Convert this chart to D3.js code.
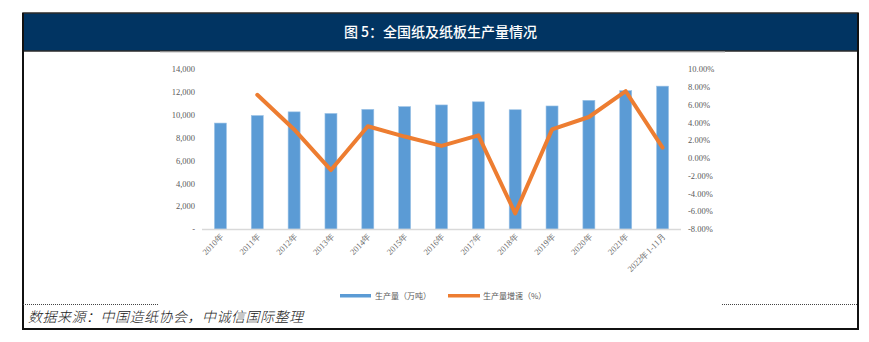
<!DOCTYPE html>
<html><head><meta charset="utf-8">
<script src="https://cdn.jsdelivr.net/npm/d3@7/dist/d3.min.js"></script>
<style>body{margin:0;background:#fff}svg{display:block}</style>
</head><body>
<script>
const categories = ["2010年","2011年","2012年","2013年","2014年","2015年","2016年","2017年","2018年","2019年","2020年","2021年","2022年1-11月"];
const production = [9270, 9930, 10250, 10110, 10470, 10710, 10855, 11130, 10435, 10765, 11260, 12105, 12500];
const growth = [null, 7.1, 3.2, -1.37, 3.56, 2.4, 1.35, 2.53, -6.24, 3.2, 4.6, 7.5, 1.15];
const leftTicks = [0, 2000, 4000, 6000, 8000, 10000, 12000, 14000];
const rightTicks = [-8, -6, -4, -2, 0, 2, 4, 6, 8, 10];
const seriesNames = ["生产量（万吨）", "生产量增速（%）"];
const titleText = "图 5：全国纸及纸板生产量情况";
const sourceText = "数据来源：中国造纸协会，中诚信国际整理";

const W = 869, H = 342;
const svg = d3.select("body").append("svg").attr("width", W).attr("height", H);

// frame
const fx0 = 23, fx1 = 858, fy0 = 13, fy1 = 329;
svg.append("rect").attr("x", fx0).attr("y", fy0).attr("width", fx1 - fx0).attr("height", 38)
  .attr("fill", "#013462").attr("stroke", "#2b2b2b").attr("stroke-width", 1.5);
svg.append("line").attr("x1", 160).attr("x2", 725).attr("y1", 52).attr("y2", 52).attr("stroke", "#bbb").attr("stroke-width", 1);
svg.append("text").attr("x", (fx0 + fx1) / 2).attr("y", 37).attr("text-anchor", "middle")
  .attr("fill", "#fff").attr("font-family", "Noto Sans CJK SC").attr("font-size", 14).attr("font-weight", 500)
  .text(titleText);
svg.append("line").attr("x1", fx0).attr("x2", fx0).attr("y1", fy0).attr("y2", fy1).attr("stroke", "#111").attr("stroke-width", 2);
svg.append("line").attr("x1", fx1).attr("x2", fx1).attr("y1", fy0).attr("y2", fy1).attr("stroke", "#111").attr("stroke-width", 2);
svg.append("line").attr("x1", fx0 - 1).attr("x2", fx1 + 1).attr("y1", fy1).attr("y2", fy1).attr("stroke", "#111").attr("stroke-width", 2);
// dotted separators
svg.append("line").attr("x1", fx0).attr("x2", 158).attr("y1", 304.5).attr("y2", 304.5).attr("stroke", "#444").attr("stroke-width", 1).attr("stroke-dasharray", "1,1");
svg.append("line").attr("x1", 722).attr("x2", fx1).attr("y1", 304.5).attr("y2", 304.5).attr("stroke", "#444").attr("stroke-width", 1).attr("stroke-dasharray", "1,1");
svg.append("text").attr("x", 28).attr("y", 322).attr("fill", "#222")
  .attr("font-family", "Noto Sans CJK SC").attr("font-size", 14).attr("font-style", "italic").attr("font-weight", 300)
  .attr("letter-spacing", 0.5)
  .text(sourceText);

// scales
const x = d3.scaleBand().domain(categories).range([202, 681]).paddingInner(0).paddingOuter(0);
const yL = d3.scaleLinear().domain([0, 14000]).range([229, 69]);
const yR = d3.scaleLinear().domain([-8, 10]).range([229, 69]);
const barW = 12;

const tickFont = "Liberation Serif, Times New Roman, serif";
// left axis
const gL = svg.append("g").attr("transform", "translate(195,0)")
  .call(d3.axisLeft(yL).tickValues(leftTicks).tickSize(0).tickPadding(0)
    .tickFormat(d => d === 0 ? "-" : d3.format(",")(d)));
gL.select(".domain").remove();
gL.selectAll("text").attr("fill", "#595959").attr("font-family", tickFont).attr("font-size", 8.5);

// right axis
const gR = svg.append("g").attr("transform", "translate(688,0)")
  .call(d3.axisRight(yR).tickValues(rightTicks).tickSize(0).tickPadding(0)
    .tickFormat(d => d.toFixed(2) + "%"));
gR.select(".domain").remove();
gR.selectAll("text").attr("fill", "#595959").attr("font-family", tickFont).attr("font-size", 8.5);

// bars
svg.append("g").selectAll("rect").data(production).join("rect")
  .attr("x", (d, i) => x(categories[i]) + x.bandwidth() / 2 - barW / 2)
  .attr("y", d => yL(d)).attr("width", barW).attr("height", d => yL(0) - yL(d))
  .attr("fill", "#5B9BD5").attr("stroke", "#9DC3E6").attr("stroke-width", 0.6);

// baseline
svg.append("line").attr("x1", 202).attr("x2", 681).attr("y1", yL(0) + 0.5).attr("y2", yL(0) + 0.5)
  .attr("stroke", "#D9D9D9").attr("stroke-width", 1.5);

// x axis labels
const gX = svg.append("g").attr("transform", `translate(0,${yL(0)})`)
  .call(d3.axisBottom(x).tickSize(0).tickPadding(0));
gX.select(".domain").remove();
gX.selectAll("text").attr("fill", "#6a6a6a").attr("font-family", tickFont).attr("font-size", 8.5)
  .attr("text-anchor", "end").attr("dy", 0).attr("y", 0)
  .attr("transform", "translate(4,8) rotate(-45)");

// line
const line = d3.line().defined(d => d.v !== null)
  .x(d => x(d.c) + x.bandwidth() / 2).y(d => yR(d.v));
svg.append("path").datum(growth.map((v, i) => ({ c: categories[i], v })))
  .attr("d", line).attr("fill", "none").attr("stroke", "#ED7D31").attr("stroke-width", 4)
  .attr("stroke-linejoin", "round").attr("stroke-linecap", "round");

// legend
const lg = svg.append("g");
lg.append("rect").attr("x", 340).attr("y", 294).attr("width", 31).attr("height", 3.5).attr("fill", "#5B9BD5");
lg.append("text").attr("x", 375).attr("y", 298.5).attr("fill", "#595959").attr("font-family", "Noto Sans CJK SC")
  .attr("font-size", 8).text(seriesNames[0]);
lg.append("rect").attr("x", 448).attr("y", 294).attr("width", 32).attr("height", 3.5).attr("fill", "#ED7D31");
lg.append("text").attr("x", 483).attr("y", 298.5).attr("fill", "#595959").attr("font-family", "Noto Sans CJK SC")
  .attr("font-size", 8).text(seriesNames[1]);
</script>
</body></html>
